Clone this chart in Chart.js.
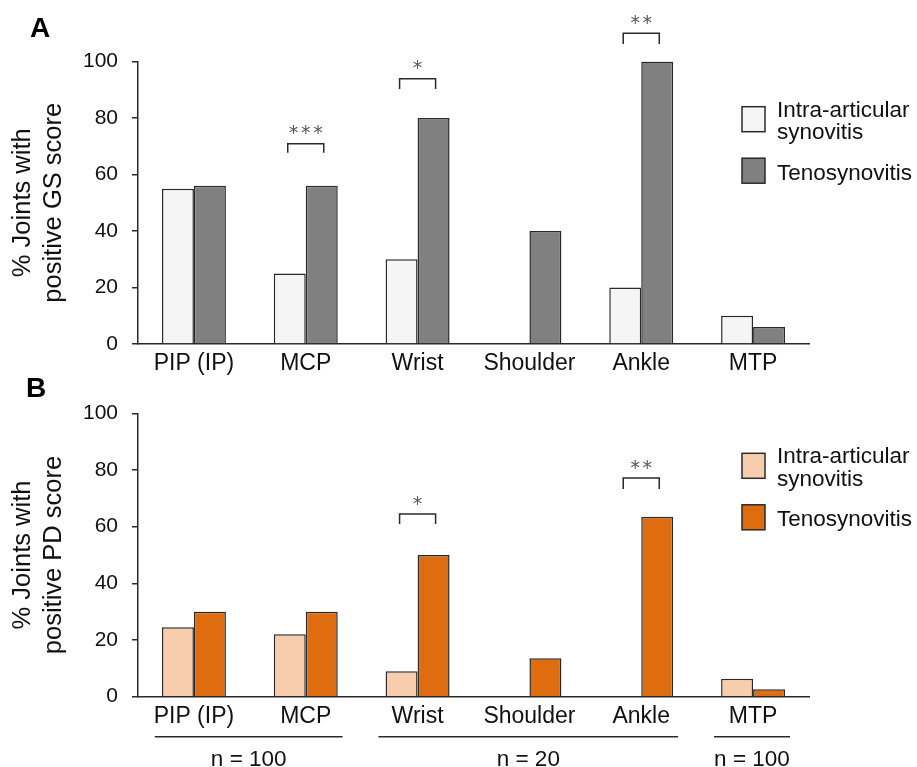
<!DOCTYPE html>
<html><head><meta charset="utf-8">
<script src="https://cdn.jsdelivr.net/npm/chart.js@4"></script>
<style>
html,body{margin:0;padding:0;background:#fff;}
#wrap{position:relative;width:917px;height:767px;overflow:hidden;}
.panel{position:absolute;left:0;width:917px;}
#pa{top:0;height:377px;}
#pb{top:377px;height:390px;}
canvas{display:block;}
</style></head><body>
<div id="wrap">
<div class="panel" id="pa"><canvas id="ca" width="917" height="377"></canvas></div>
<div class="panel" id="pb"><canvas id="cb" width="917" height="390"></canvas></div>
</div>
<script>
// ---- data ----
const joints = ['PIP (IP)', 'MCP', 'Wrist', 'Shoulder', 'Ankle', 'MTP'];
const seriesNames = ['Intra-articular synovitis', 'Tenosynovitis'];
const legendLines = [['Intra-articular', 'synovitis'], ['Tenosynovitis']];
const gsIntra = [55, 25, 30, 0, 20, 10];
const gsTeno  = [56, 56, 80, 40, 100, 6];
const pdIntra = [24.5, 22, 9, 0, 0, 6.3];
const pdTeno  = [30, 30, 50, 13.6, 63.5, 2.6];
const yTicks = [0, 20, 40, 60, 80, 100];
const gsTitle = ['% Joints with', 'positive GS score'];
const pdTitle = ['% Joints with', 'positive PD score'];
const panelLetters = ['A', 'B'];
// significance brackets (levels in % units)
const gsSig = [
  {joint: 'MCP',   stars: '***', top: 70.9, foot: 67.7, text: 76.6},
  {joint: 'Wrist', stars: '*',   top: 93.9, foot: 90.3, text: 99.5},
  {joint: 'Ankle', stars: '**',  top: 110,  foot: 106.2, text: 115.5}
];
const pdSig = [
  {joint: 'Wrist', stars: '*',  top: 64.5, foot: 60.9, text: 70},
  {joint: 'Ankle', stars: '**', top: 77.2, foot: 73.3, text: 82.5}
];
const sampleGroups = [
  {label: 'n = 100', first: 'PIP (IP)', last: 'MCP'},
  {label: 'n = 20',  first: 'Wrist',    last: 'Ankle'},
  {label: 'n = 100', first: 'MTP',      last: 'MTP'}
];

// ---- styles ----
const FONT = '"Liberation Sans", Arial, Helvetica, sans-serif';
const INK = '#111';
const AXIS = '#2a2a2a';
const gsColors = ['#f5f5f5', '#808080'];
const pdColors = ['#f7cdae', '#e06c10'];

const annot = {
  id: 'annot',
  afterDraw(chart, args, o) {
    const {ctx, chartArea} = chart;
    const x = chart.scales.x, y = chart.scales.y;
    const cw = (chartArea.right - chartArea.left) / chart.data.labels.length;
    ctx.save();
    // significance brackets
    (o.sig || []).forEach(s => {
      const i = chart.data.labels.indexOf(s.joint);
      const cx = x.getPixelForValue(i);
      const hw = cw * 0.161;
      const yt = y.getPixelForValue(s.top), yf = y.getPixelForValue(s.foot);
      ctx.strokeStyle = AXIS; ctx.lineWidth = 1.5;
      ctx.beginPath();
      ctx.moveTo(cx - hw, yf); ctx.lineTo(cx - hw, yt); ctx.lineTo(cx + hw, yt); ctx.lineTo(cx + hw, yf);
      ctx.stroke();
      const yc = y.getPixelForValue(s.text);
      ctx.fillStyle = '#555';
      ctx.font = '19px "DejaVu Sans"';
      ctx.textAlign = 'center'; ctx.textBaseline = 'alphabetic';
      const n = s.stars.length, sp = 12.2;
      for (let k = 0; k < n; k++) ctx.fillText(s.stars[k], cx + (k - (n - 1) / 2) * sp, yc + 0.6 * 19);
    });
    // legend
    const lg = o.legend;
    chart.data.datasets.forEach((ds, i) => {
      const bt = i === 0 ? lg.top : lg.top + 51.5;
      ctx.fillStyle = ds.backgroundColor;
      ctx.fillRect(lg.left, bt, 23, 25);
      ctx.strokeStyle = AXIS; ctx.lineWidth = 1.5;
      ctx.strokeRect(lg.left, bt, 23, 25);
      ctx.fillStyle = INK;
      ctx.font = '22.5px ' + FONT;
      ctx.textAlign = 'left'; ctx.textBaseline = 'alphabetic';
      const lines = legendLines[i];
      if (lines.length === 2) {
        ctx.fillText(lines[0], lg.left + 35, bt + 10);
        ctx.fillText(lines[1], lg.left + 35, bt + 32.5);
      } else {
        ctx.fillText(lines[0], lg.left + 35, bt + 21.5);
      }
    });
    // panel letter
    ctx.fillStyle = '#000';
    ctx.font = 'bold 28px ' + FONT;
    ctx.textAlign = 'left'; ctx.textBaseline = 'alphabetic';
    ctx.fillText(o.letter, o.letterX, o.letterY);
    // sample-size groups
    (o.groups || []).forEach(g => {
      const a = x.getPixelForValue(chart.data.labels.indexOf(g.first)) - cw * 0.35;
      const b = x.getPixelForValue(chart.data.labels.indexOf(g.last)) + cw * 0.33;
      const ly = chartArea.bottom + 40;
      ctx.strokeStyle = AXIS; ctx.lineWidth = 1.5;
      ctx.beginPath(); ctx.moveTo(a, ly); ctx.lineTo(b, ly); ctx.stroke();
      ctx.fillStyle = INK;
      ctx.font = '22.5px ' + FONT;
      ctx.textAlign = 'center'; ctx.textBaseline = 'alphabetic';
      ctx.fillText(g.label, (a + b) / 2, chartArea.bottom + 69.5);
    });
    ctx.restore();
  }
};

function makeChart(id, intra, teno, colors, title, padTop, xHeight, opts) {
  const canvas = document.getElementById(id);
  return new Chart(canvas, {
    type: 'bar',
    data: {
      labels: joints,
      datasets: [
        {label: seriesNames[0], data: intra, backgroundColor: colors[0], borderColor: AXIS, borderWidth: 1.5},
        {label: seriesNames[1], data: teno, backgroundColor: colors[1], borderColor: AXIS, borderWidth: 1.5}
      ]
    },
    options: {
      responsive: false,
      animation: false,
      devicePixelRatio: 1,
      layout: {padding: {top: padTop, right: 108, left: 0, bottom: 0}},
      datasets: {bar: {categoryPercentage: 0.572, barPercentage: 1.0}},
      plugins: {legend: {display: false}, tooltip: {enabled: false}, annot: opts},
      scales: {
        x: {
          type: 'category',
          grid: {display: false, drawTicks: false},
          border: {display: true, color: AXIS, width: 1.5},
          ticks: {color: INK, font: {family: FONT, size: 23}, padding: 6, maxRotation: 0, autoSkip: false},
          afterFit(s) { s.height = xHeight; }
        },
        y: {
          min: 0, max: 100,
          afterBuildTicks(s) { s.ticks = yTicks.map(v => ({value: v})); },
          grid: {display: true, drawOnChartArea: false, drawTicks: true, tickLength: 6, color: AXIS, lineWidth: 1.5},
          border: {display: true, color: AXIS, width: 1.5},
          ticks: {color: INK, font: {family: FONT, size: 21}, padding: 14},
          title: {display: true, text: title, color: INK, font: {family: FONT, size: 25.5, lineHeight: 1.22}, padding: {top: 7, bottom: 0}},
          afterFit(s) { s.width = 138; }
        }
      }
    },
    plugins: [annot]
  });
}

makeChart('ca', gsIntra, gsTeno, gsColors, gsTitle, 61.5, 377 - 344, {
  sig: gsSig, legend: {left: 742, top: 106.7}, letter: panelLetters[0], letterX: 30, letterY: 37.3
});
makeChart('cb', pdIntra, pdTeno, pdColors, pdTitle, 36.3, 390 - 319.7, {
  sig: pdSig, legend: {left: 742, top: 76.3}, letter: panelLetters[1], letterX: 26, letterY: 19.7, groups: sampleGroups
});
</script>
</body></html>
